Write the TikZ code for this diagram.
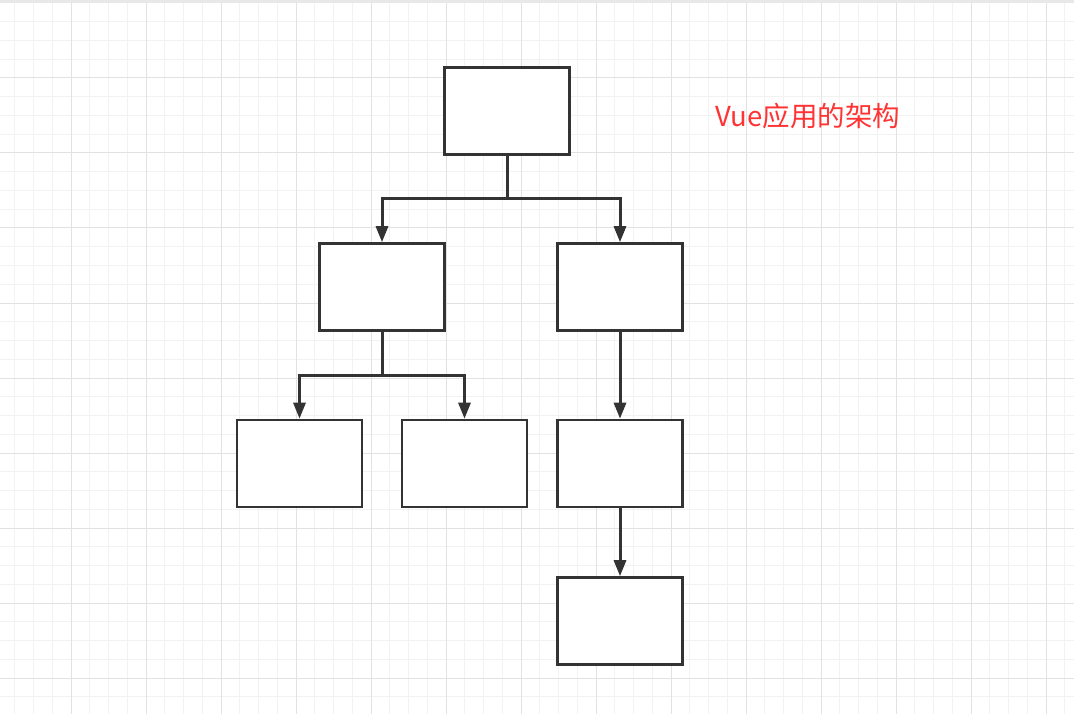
\documentclass[tikz,border=0pt]{standalone}
\usepackage{fontspec}
\newfontfamily\cjk{Noto Sans CJK SC}
\usetikzlibrary{arrows.meta, positioning}
\definecolor{inkgray}{HTML}{333333}
\definecolor{gridminor}{HTML}{F2F2F2}
\definecolor{gridmajor}{HTML}{E2E2E2}
\definecolor{titlered}{HTML}{FF3333}
\tikzset{
  >={Triangle[length=16pt, width=12pt]},
  every picture/.style={line cap=butt, line join=miter},
  % grid of the canvas
  minorline/.style={gridminor, line width=1pt},
  majorline/.style={gridmajor, line width=1pt},
  % component boxes and links between them
  comp/.style={draw=inkgray, line width=2.6pt, fill=white, minimum width=125pt, minimum height=87pt, inner sep=0pt},
  link/.style={inkgray, line width=3pt},
  linkarr/.style={link, ->},
}

\begin{document}
\begin{tikzpicture}[x=1pt, y=-1pt]
  \useasboundingbox (0,0) rectangle (1074,714);
  \fill[white] (0,0) rectangle (1074,714);
  % canvas grid
  \foreach \i in {0,...,57} \draw[minorline] ({14.75+18.75*\i},0) -- ++(0,714);
  \foreach \i in {0,...,38} \draw[minorline] (0,{3+18.75*\i}) -- ++(1074,0);
  \foreach \i in {1,...,14} \draw[majorline] ({-4+75*\i},0) -- ++(0,714);
  \foreach \i in {1,...,9} \draw[majorline] (0,{3+75*\i}) -- ++(1074,0);
  \fill[gridmajor!80] (0,0) rectangle (1074,3);
  % title
  \node[titlered, font=\cjk\fontsize{27.5}{30}\selectfont] (title) at (808,116) {Vue应用的架构};
  % component tree
  \node[comp] (root) at (507,111) {};
  \node[comp] (left) at (382,287) {};
  \node[comp] (right) at (620,287) {};
  \node[comp] (leafa) at (299.5,463.5) {};
  \node[comp] (leafb) at (464.5,463.5) {};
  \node[comp] (leafc) at (620,463.5) {};
  \node[comp] (leafd) at (620,621) {};
  % links
  \coordinate (rootfork) at (507,199);
  \coordinate (leftfork) at (382,375);
  \draw[link] (root.south) -- (rootfork);
  \draw[linkarr] (rootfork) -| (left.north);
  \draw[linkarr] (rootfork) -| (right.north);
  \draw[link] (left.south) -- (leftfork);
  \draw[linkarr] (leftfork) -| (leafa.north);
  \draw[linkarr] (leftfork) -| (leafb.north);
  \draw[linkarr] (right.south) -- (leafc.north);
  \draw[linkarr] (leafc.south) -- (leafd.north);
\end{tikzpicture}
\end{document}
